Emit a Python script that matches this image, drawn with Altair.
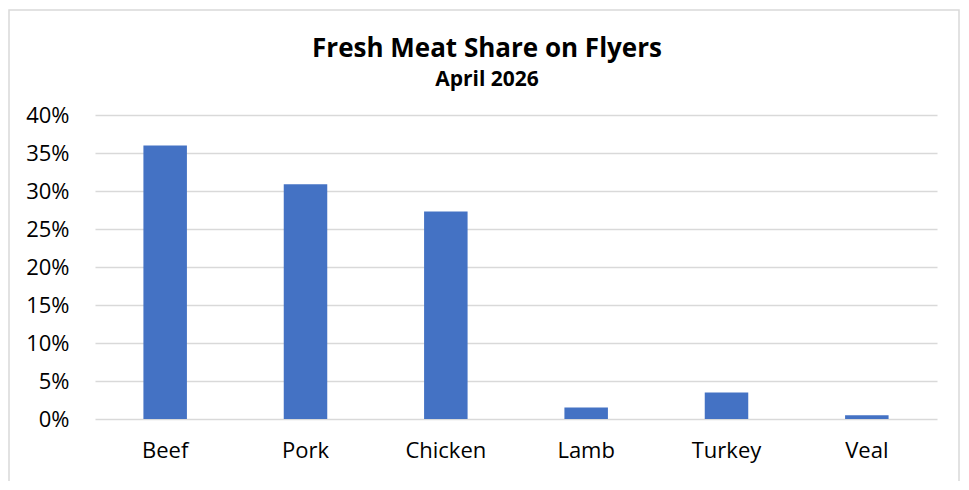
import altair as alt
import pandas as pd

categories = ["Beef", "Pork", "Chicken", "Lamb", "Turkey", "Veal"]
shares = [0.360, 0.309, 0.273, 0.015, 0.035, 0.005]
y_ticks = [0, 0.05, 0.10, 0.15, 0.20, 0.25, 0.30, 0.35, 0.40]
title_text = "Fresh Meat Share on Flyers"
subtitle_text = "April 2026"

df = pd.DataFrame({"Meat": categories, "Share": shares})

FONT = "Open Sans"
W, H = 842, 304

bars = alt.Chart(df).mark_bar(color="#4472C4").encode(
    x=alt.X("Meat:N", sort=categories, title=None,
            scale=alt.Scale(paddingInner=0.69, paddingOuter=0.345),
            axis=alt.Axis(labelAngle=0, labelFontSize=22, labelFont=FONT,
                          labelColor="#000000", domain=False, ticks=False,
                          labelPadding=21, grid=False)),
    y=alt.Y("Share:Q", title=None,
            scale=alt.Scale(domain=[0, 0.40], nice=False),
            axis=alt.Axis(values=y_ticks, format=".0%", labelFontSize=22,
                          labelFont=FONT, labelColor="#000000", domain=False,
                          ticks=False, labelPadding=26, grid=True,
                          gridColor="#D9D9D9", gridWidth=1.5)),
)

header = alt.Chart(alt.Data(values=[{"t": title_text, "s": subtitle_text}]))
title_mark = header.mark_text(font=FONT, fontSize=26, fontWeight="bold",
                              color="#000000", align="center").encode(
    x=alt.value(392), y=alt.value(-66), text="t:N")
sub_mark = header.mark_text(font=FONT, fontSize=21, fontWeight="bold",
                            color="#000000", align="center").encode(
    x=alt.value(392), y=alt.value(-35), text="s:N")

border = header.mark_rect(fill=None, stroke="#D9D9D9", strokeWidth=1.5).encode(
    x=alt.value(-86), x2=alt.value(864), y=alt.value(-105),
    y2=alt.value(H + 66))

chart = alt.layer(border, bars, title_mark, sub_mark).properties(
    width=W, height=H,
    autosize=alt.AutoSizeParams(type="none"),
    padding={"left": 87, "top": 107, "right": 24, "bottom": 62},
    background="#FFFFFF",
).configure_view(stroke=None)

chart.save("out.html", embed_options={"renderer": "svg", "actions": False})
